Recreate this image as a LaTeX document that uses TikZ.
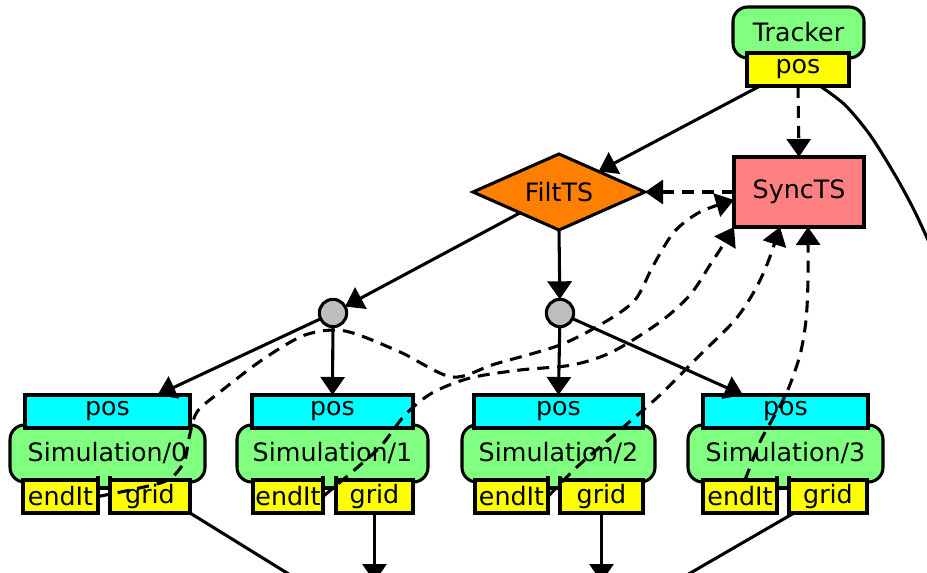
\documentclass[tikz,border=0pt]{standalone}
\usepackage{fontspec}
\setmainfont{DejaVu Sans}
\usetikzlibrary{shapes.geometric,arrows.meta,calc}
\definecolor{gnode}{HTML}{80FF80}
\definecolor{cnode}{HTML}{00FFFF}
\definecolor{ynode}{HTML}{FFFF00}
\definecolor{onode}{HTML}{FF8000}
\definecolor{snode}{HTML}{FF8080}
\definecolor{knode}{HTML}{BEBEBE}
\begin{document}
\begin{tikzpicture}[x=0.75pt,y=-0.75pt,
  font=\fontsize{19pt}{21pt}\selectfont,
  every node/.style={inner sep=0pt, outer sep=0pt},
  span/.style args={#1/#2/#3/#4}{rectangle, at={({(#1+#2)/2},{(#3+#4)/2})},
     minimum width={(#2-#1)*0.75pt}, minimum height={(#4-#3)*0.75pt}},
  bord/.style={draw=black, line width=2.3pt},
  greenbox/.style={bord, fill=gnode, rounded corners=11pt},
  cyanbox/.style={bord, fill=cnode},
  yelbox/.style={bord, fill=ynode},
  junction/.style={circle, bord, fill=knode, minimum size=20.5pt},
  edge/.style={line width=2.3pt, -{Triangle[length=13.5pt,width=18pt]}},
  plain/.style={line width=2.3pt},
  dedge/.style={edge, dash pattern=on 9pt off 6pt},
]
\useasboundingbox (0,0) rectangle (927,573);
\clip (0,0) rectangle (927,573);

% Tracker
\node[greenbox, span=733/864/7/58] (tracker) {Tracker};
\node[yelbox, span=747/849/53/86] (tpos) {pos};

% FiltTS
\node[diamond, aspect=2.26, bord, fill=onode, minimum width=129pt, minimum height=57pt] (filt) at (559,192) {FiltTS};

% SyncTS
\node[bord, fill=snode, span=734/864/157/227] (sync) {SyncTS};

% junction circles
\node[junction] (c0) at (333,313) {};
\node[junction] (c1) at (560,313) {};

% simulations
\foreach \i/\pl/\pr/\gl/\gr/\el/\er/\ql/\qr in
  {0/25/190/10/205/23/98/110/190,
   1/252/413/237/428/253/323/336/413,
   2/474/643/462/655/475/548/560/643,
   3/703/868/688/883/703/777/789/867}{
  \node[greenbox, span=\gl/\gr/425/482] (sim\i) {Simulation/\i};
  \fill[gnode] (\er,476) rectangle (\ql,488);
  \draw[line width=2.3pt] (\er,476) -- (\er,488) -- (\ql,488) -- (\ql,476);
  \node[cyanbox, span=\pl/\pr/395/428] (pos\i) {pos};
  \node[yelbox, span=\el/\er/480/513] (end\i) {endIt};
  \node[yelbox, span=\ql/\qr/480/513] (grid\i) {grid};
}

% off-picture ends
\coordinate (offR) at (938,262);
\coordinate (offA) at (300,581);
\coordinate (offB) at (374.5,582);
\coordinate (offC) at (601.5,582);
\coordinate (offD) at (680,579);

% solid edges
\draw[edge] ($(tpos.south)+(-38,0)$) -- ($(filt.north)!0.46!(filt.east)$);
\draw[plain] plot[smooth] coordinates {($(tpos.south)+(22,0)$) (845,105) (870,135) (895,175) (915,212) (offR)};
\draw[edge] (filt) -- (c0);
\draw[edge] (filt.south) -- (c1);
\draw[edge] (c0) -- ($(pos0.north)+(50,0)$);
\draw[edge] (c0) -- (pos1.north);
\draw[edge] (c1) -- (pos2.north);
\draw[edge] (c1) -- ($(pos3.north west)+(40,0)$);
\draw[plain] (grid0.south east) -- (offA);
\draw[edge] (grid1.south) -- (offB);
\draw[edge] (grid2.south) -- (offC);
\draw[plain] ($(grid3.south west)+(5,0)$) -- (offD);

% dashed edges
\draw[dedge] (tpos.south) -- (sync.north);
\draw[dedge] (sync.west) -- (filt.east);
\draw[dedge] plot[smooth] coordinates {(end0.east) (135,489) (168,480) (184,462) (189,438) (197,412) (220,392) (262,360) (305,335) (345,331) (400,352) (452,377) (495,364) (560,345) (605,322) (635,300) (653,266) (674,232) (700,212) ($(sync.west)+(0,8)$)};
\draw[dedge] plot[smooth] coordinates {(end1.east) (345,478) (380,447) (405,415) (432,393) (470,378) (520,370) (572,365) (612,352) (660,322) (690,295) (710,265) (725,242) (sync.south west)};
\draw[dedge] plot[smooth] coordinates {(end2.east) (578,466) (620,430) (660,395) (700,355) (735,320) (755,290) (768,262) ($(sync.south west)+(46,0)$)};
\draw[dedge] plot[smooth] coordinates {($(end3.north)+(5,0)$) (760,442) (772,420) (787,392) (800,355) (806,320) (808,280) ($(sync.south west)+(74,0)$)};
\end{tikzpicture}
\end{document}
